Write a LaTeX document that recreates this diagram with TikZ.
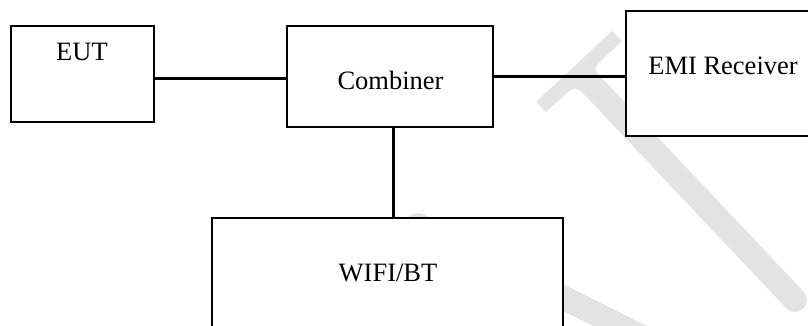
\documentclass[tikz,border=0pt]{standalone}
\usepackage{fontspec}
\setmainfont{Liberation Serif}
\begin{document}
\begin{tikzpicture}[x=1pt,y=-1pt,
  box/.style={draw=black, fill=white, line width=1.9pt, inner sep=0pt, rectangle},
  wire/.style={draw=black, line width=3pt},
  lbl/.style={anchor=base, inner sep=0pt, font=\fontsize{26.5}{30}\selectfont},
  wm/.style={fill=black!11},
  wmline/.style={draw=black!11, line width=24pt, line cap=round}]
\useasboundingbox (0,0) rectangle (808,325);
\clip (0,0) rectangle (808,325);
\fill[white] (0,0) rectangle (808,325);
% watermark (faint)
\fill[wm] (536.2,101.9) -- (612.2,30.9) -- (621.8,41.1) -- (604.3,57.5)
  .. controls (592.6,68.4) .. (603.6,80.0)
  -- (803.7,291.8) .. controls (808.2,296.6) and (808.0,304.2) .. (803.2,308.7)
  .. controls (798.4,313.2) and (790.8,313.0) .. (786.3,308.2)
  -- (590,100.5) .. controls (575.1,84.8) .. (559,100)
  -- (545.8,112.1) -- cycle;
\draw[wmline] (418,225) -- (760,396);
% boxes
\node[box, minimum width=143pt, minimum height=96pt] (eut) at (82.5,74) {};
\node[box, minimum width=206pt, minimum height=101pt] (comb) at (390,76.5) {};
\node[box, minimum width=214pt, minimum height=125pt] (emi) at (733,73.5) {};
\node[box, minimum width=351pt, minimum height=142pt] (wifi) at (387.5,289) {};
% labels
\node[lbl] (eutl) at (82,60.7) {EUT};
\node[lbl] (combl) at (390.5,89) {Combiner};
\node[lbl] (emil) at (723,74) {EMI Receiver};
\node[lbl] (wifil) at (388,281.7) {WIFI/BT};
% connectors
\draw[wire] ([yshift=-4pt]eut.east) -- ([yshift=-4pt]eut.east -| comb.west);
\draw[wire] ([yshift=0.5pt]comb.east) -- ([yshift=0.5pt]comb.east -| emi.west);
\draw[wire] ([xshift=3pt]comb.south) -- ([xshift=3pt]comb.south |- wifi.north);
\end{tikzpicture}
\end{document}
